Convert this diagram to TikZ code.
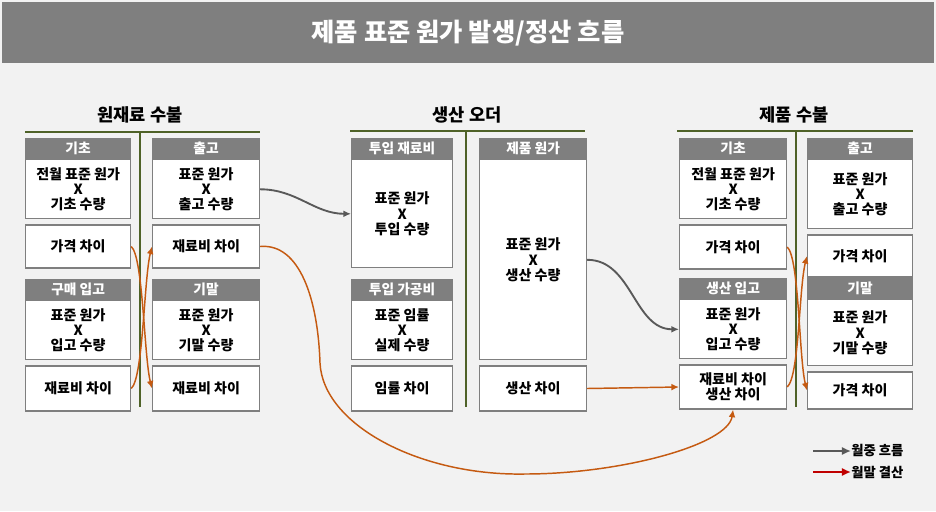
\documentclass[tikz,border=0pt]{standalone}
\usepackage{fontspec}
\setmainfont{Noto Sans CJK KR}
\definecolor{bargray}{RGB}{127, 127, 127}
\definecolor{pagegray}{RGB}{242, 242, 242}
\definecolor{linegreen}{RGB}{79, 98, 40}
\definecolor{flowgray}{RGB}{89, 89, 89}
\definecolor{settleorange}{RGB}{197, 90, 17}
\definecolor{settlered}{RGB}{192, 0, 0}
\usetikzlibrary{arrows.meta, positioning}
\tikzset{
	head/.style={rectangle, draw=bargray, fill=bargray, line width=0.9pt, text=white, inner sep=0pt, minimum height=15pt, font=\bfseries\fontsize{10.3}{12}\selectfont},
	cell/.style={rectangle, draw=bargray, fill=white, line width=0.9pt, align=center, inner sep=0pt, font=\bfseries\fontsize{10.5}{11.5}\selectfont},
	colA/.style={minimum width=78.75pt},
	colB/.style={minimum width=80.25pt},
	colC/.style={minimum width=75.75pt},
	titletext/.style={text=white, font=\bfseries\fontsize{19}{22}\selectfont},
	sectitle/.style={font=\bfseries\fontsize{13.2}{16}\selectfont},
	legtext/.style={anchor=west, inner sep=0pt, font=\bfseries\fontsize{10}{12}\selectfont},
	secline/.style={draw=linegreen, line width=2.2pt},
	flow/.style={-{Latex[length=2mm, width=1.8mm]}, line width=1.4pt, draw=flowgray},
	settle/.style={-{Latex[length=2mm, width=1.8mm]}, line width=1.1pt, draw=settleorange},
	legarrow/.style={-{Latex[length=2.4mm, width=2.2mm]}, line width=2.2pt},
}

\begin{document}
\begin{tikzpicture}[x=0.75pt, y=-0.75pt, node distance=3.75pt]
	\useasboundingbox (0,0) rectangle (936,511);
	\fill[pagegray] (0,0) rectangle (936,511);
	\fill[bargray] (2,2) rectangle (934,63);
	\node[titletext] (title) at (468,33) {제품 표준 원가 발생/정산 흐름};

	% 원재료 수불
	\node[sectitle] (rawsec) at (140,115) {원재료 수불};
	\draw[secline] (25,132) -- (260,132);
	\draw[secline] (140,132) -- (140,407);
	\node[head, colA, anchor=north west] (rbegh) at (25,138) {기초};
	\node[cell, colA, minimum height=44.25pt, below=0pt of rbegh] (rbeg) {전월 표준 원가\\X\\기초 수량};
	\node[cell, colA, minimum height=32.25pt, below=of rbeg] (rprice) {가격 차이};
	\node[head, colA, anchor=north west] (rinh) at (25,279) {구매 입고};
	\node[cell, colA, minimum height=44.25pt, below=0pt of rinh] (rin) {표준 원가\\X\\입고 수량};
	\node[cell, colA, minimum height=33.75pt, below=of rin] (rinvar) {재료비 차이};
	\node[head, colB, anchor=north west] (routh) at (152,138) {출고};
	\node[cell, colB, minimum height=44.25pt, below=0pt of routh] (rout) {표준 원가\\X\\출고 수량};
	\node[cell, colB, minimum height=32.25pt, below=of rout] (routvar) {재료비 차이};
	\node[head, colB, anchor=north west] (rendh) at (152,279) {기말};
	\node[cell, colB, minimum height=44.25pt, below=0pt of rendh] (rend) {표준 원가\\X\\기말 수량};
	\node[cell, colB, minimum height=33.75pt, below=of rend] (rendvar) {재료비 차이};

	% 생산 오더
	\node[sectitle] (ordsec) at (467,115) {생산 오더};
	\draw[secline] (350,131) -- (585,131);
	\draw[secline] (466,131) -- (466,407);
	\node[head, colC, anchor=north west] (omath) at (351,138) {투입 재료비};
	\node[cell, colC, minimum height=81pt, below=0pt of omath] (omat) {표준 원가\\X\\투입 수량};
	\node[head, colC, anchor=north west] (olabh) at (351,279) {투입 가공비};
	\node[cell, colC, minimum height=44.25pt, below=0pt of olabh] (olab) {표준 임률\\X\\실제 수량};
	\node[cell, colC, minimum height=33.75pt, below=of olab] (olabvar) {임률 차이};
	\node[head, colB, anchor=north west] (oprdh) at (479,138) {제품 원가};
	\node[cell, colB, minimum height=150pt, below=0pt of oprdh] (oprd) {표준 원가\\X\\생산 수량};
	\node[cell, colB, minimum height=33.75pt, below=of oprd] (oprdvar) {생산 차이};

	% 제품 수불
	\node[sectitle] (prdsec) at (794,115) {제품 수불};
	\draw[secline] (677,131) -- (913,131);
	\draw[secline] (796,131) -- (796,407);
	\node[head, colB, anchor=north west] (pbegh) at (679,138) {기초};
	\node[cell, colB, minimum height=44.25pt, below=0pt of pbegh] (pbeg) {전월 표준 원가\\X\\기초 수량};
	\node[cell, colB, minimum height=33pt, below=of pbeg] (pprice) {가격 차이};
	\node[head, colB, anchor=north west] (pinh) at (679,278) {생산 입고};
	\node[cell, colB, minimum height=44.25pt, below=0pt of pinh] (pin) {표준 원가\\X\\입고 수량};
	\node[cell, colB, minimum height=33pt, below=of pin] (pinvar) {재료비 차이\\생산 차이};
	\node[head, colA, anchor=north west] (pouth) at (807,138) {출고};
	\node[cell, colA, minimum height=51.75pt, below=0pt of pouth] (pout) {표준 원가\\X\\출고 수량};
	\node[cell, colA, minimum height=31.5pt, below=of pout] (poutvar) {가격 차이};
	\node[head, colA, anchor=north west] (pendh) at (807,278) {기말};
	\node[cell, colA, minimum height=49.5pt, below=0pt of pendh] (pend) {표준 원가\\X\\기말 수량};
	\node[cell, colA, minimum height=27.75pt, below=of pend] (pendvar) {가격 차이};

	% 월중 흐름
	\draw[flow] (rout.east) to[out=0, in=180] (omat.west);
	\draw[flow] (oprd.east) to[out=0, in=180] (pin.west);

	% 월말 결산
	\draw[settle] (rprice.east) .. controls +(12,10) and +(-8,-32) .. (rendvar.west);
	\draw[settle] (rinvar.east) .. controls +(12,-10) and +(-8,32) .. (routvar.west);
	\draw[settle] (pprice.east) .. controls +(12,10) and +(-8,-32) .. (pendvar.west);
	\draw[settle] (pinvar.east) .. controls +(12,-10) and +(-8,32) .. (poutvar.west);
	\draw[settle] (oprdvar.east) -- (pinvar.west);
	\draw[settle] (routvar.east) .. controls (300,243) and (318,300) .. (320,363)
		.. controls (323,425) and (420,476) .. (525,474)
		.. controls (620,474) and (728,445) .. (pinvar.south);

	% legend
	\node[legtext] (legflow) at (851,451) {월중 흐름};
	\node[legtext] (legsettle) at (851,472) {월말 결산};
	\coordinate (legflowstart) at (813,451);
	\coordinate (legsettlestart) at (813,472);
	\draw[legarrow, draw=flowgray] (legflowstart) -- (legflow.west);
	\draw[legarrow, draw=settlered] (legsettlestart) -- (legsettle.west);
\end{tikzpicture}
\end{document}
